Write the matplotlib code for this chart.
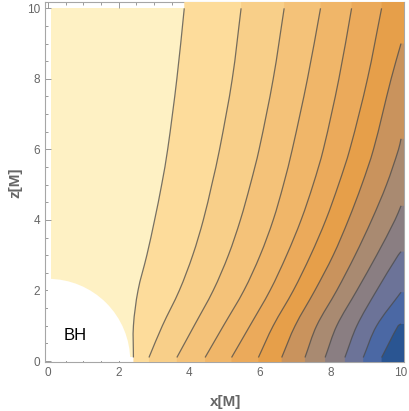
import numpy as np
import matplotlib
matplotlib.use("Agg")
import matplotlib.pyplot as plt
from matplotlib.path import Path
from matplotlib.patches import PathPatch, Rectangle, Wedge
from matplotlib.ticker import MultipleLocator

plt.rcParams['font.family'] = ['Liberation Sans', 'DejaVu Sans']

# contour lines: (z, x) samples from bottom to where they leave the box
z_std = [0.1, 1, 2, 3, 4, 5, 6, 8, 10]
line_z = [
    z_std, z_std, z_std, z_std, z_std, z_std,
    [0.1, 1, 2, 3, 4, 5, 6, 8, 9.0],
    [0.1, 1, 2, 3, 4, 5, 6, 6.3],
    [0.1, 1, 2, 3, 4, 4.4],
    [0.1, 1, 2, 3, 3.1],
    [0.1, 1, 1.95],
    [0.1, 1.0, 1.05],
]
line_x = [
    [2.42, 2.42, 2.55, 2.80, 3.02, 3.22, 3.39, 3.65, 3.86],
    [2.86, 3.24, 3.72, 4.10, 4.40, 4.64, 4.86, 5.22, 5.47],
    [3.65, 4.14, 4.68, 5.11, 5.45, 5.73, 5.98, 6.38, 6.69],
    [4.45, 4.97, 5.55, 6.01, 6.38, 6.67, 6.92, 7.35, 7.72],
    [5.20, 5.72, 6.29, 6.76, 7.17, 7.51, 7.80, 8.24, 8.60],
    [5.96, 6.38, 6.95, 7.44, 7.87, 8.23, 8.55, 9.05, 9.45],
    [6.62, 7.00, 7.56, 8.08, 8.51, 8.89, 9.22, 9.72, 10.0],
    [7.28, 7.61, 8.18, 8.70, 9.17, 9.59, 9.93, 10.0],
    [7.85, 8.18, 8.75, 9.31, 9.83, 10.0],
    [8.41, 8.75, 9.31, 9.92, 10.0],
    [8.93, 9.31, 10.0],
    [9.45, 9.92, 10.0],
]
band_colors = ['#FEF1C4', '#FDDC9B', '#F8CF89', '#F4C279', '#F0B669', '#EBAA5B',
               '#E69F4A', '#C9935D', '#A98A71', '#8A7E82', '#6C7398', '#4B68A4', '#2A5592']
bh_radius = 2.33
xticks = [0, 2, 4, 6, 8, 10]


def curve(xs, zs):
    # smooth curve through the read points, as cubic Bezier pieces (z used as knot)
    p = np.column_stack([xs, zs]).astype(float)
    t = np.array(zs, dtype=float)
    n = len(p)
    tang = np.zeros_like(p)
    for i in range(n):
        a, b = max(i - 1, 0), min(i + 1, n - 1)
        tang[i] = (p[b] - p[a]) / (t[b] - t[a])
    verts = [p[0]]
    codes = [Path.MOVETO]
    for i in range(n - 1):
        h = t[i + 1] - t[i]
        verts += [p[i] + tang[i] * h / 3, p[i + 1] - tang[i + 1] * h / 3, p[i + 1]]
        codes += [Path.CURVE4] * 3
    return verts, codes


fig = plt.figure(figsize=(4.09, 4.11), dpi=100)
ax = fig.add_axes([45 / 409, 1 - 362 / 411, 359 / 409, 360 / 411])
ax.set_xlim(-3 / 35.3, 10 + 3 / 35.3)
ax.set_ylim(-1 / 35.27, 10 + 6.3 / 35.27)

clip = Rectangle((0.08, 0.1), 9.92, 9.9, transform=ax.transData)

base = Rectangle((0.08, 0.1), 9.92, 9.9, facecolor=band_colors[0], edgecolor='none', zorder=1)
ax.add_patch(base)
ax.add_patch(Wedge((0, 0), bh_radius, 0, 90, facecolor='white', edgecolor='none', zorder=2))

for k in range(len(line_x)):
    xs, zs = line_x[k], line_z[k]
    verts, codes = curve(xs, zs)
    if zs[-1] >= 10:
        tail = [(xs[-1], 11), (11, 11), (11, -1), (xs[0], -1)]
    else:
        tail = [(11, zs[-1]), (11, -1), (xs[0], -1)]
    fv = verts + tail + [(0, 0)]
    fc = codes + [Path.LINETO] * len(tail) + [Path.CLOSEPOLY]
    band = PathPatch(Path(fv, fc), facecolor=band_colors[k + 1], edgecolor='none', zorder=3 + k)
    band.set_clip_path(clip)
    ax.add_patch(band)
    ln = PathPatch(Path(verts, codes), facecolor='none', edgecolor='#4a4a4a', lw=0.9,
                   alpha=0.75, zorder=30)
    ln.set_clip_path(clip)
    ax.add_patch(ln)

ax.text(0.78, 0.71, 'BH', fontsize=12, color='black', ha='center', va='center', zorder=40)

ax.set_xticks(xticks)
ax.set_yticks(xticks)
ax.xaxis.set_minor_locator(MultipleLocator(0.5))
ax.yaxis.set_minor_locator(MultipleLocator(0.5))
ax.tick_params(which='both', direction='in', top=True, right=True, color='#999999',
               labelcolor='#666666', labelsize=8.5, width=0.7)
ax.tick_params(which='major', length=4.5)
ax.tick_params(which='minor', length=2.5)
for s in ax.spines.values():
    s.set_color('#a6a6a6')
    s.set_linewidth(0.8)

fig.text(225.5 / 409, 1 - 402 / 411, 'x[M]', fontsize=11, fontweight='bold', color='#666666',
         ha='center', va='center')
fig.text(15.5 / 409, 1 - 183 / 411, 'z[M]', fontsize=11, fontweight='bold', color='#666666',
         ha='center', va='center', rotation=90)

fig.savefig('out.png', dpi=100)
